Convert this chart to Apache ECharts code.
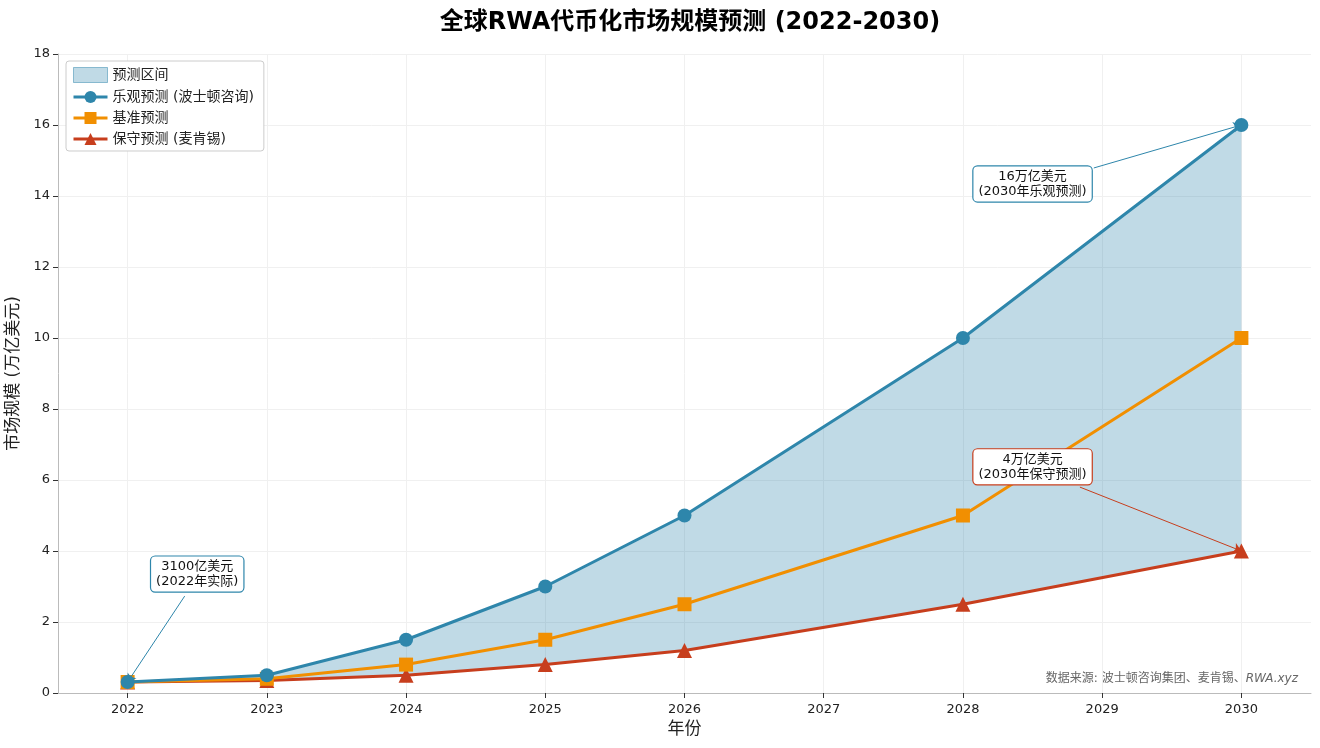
<!DOCTYPE html>
<html>
<head>
<meta charset="utf-8">
<script src="https://cdn.jsdelivr.net/npm/echarts@6/dist/echarts.min.js"></script>
<style>
  html, body { margin: 0; background: #fff; }
  #chart { width: 1320px; height: 748px; }
</style>
</head>
<body>
<div id="chart"></div>
<script>
// 数据
var years = [2022, 2023, 2024, 2025, 2026, 2028, 2030];
var axisYears = [2022, 2023, 2024, 2025, 2026, 2027, 2028, 2029, 2030];
var optimistic = [0.31, 0.5, 1.5, 3, 5, 10, 16];
var baseline = [0.31, 0.4, 0.8, 1.5, 2.5, 5, 10];
var conservative = [0.31, 0.35, 0.5, 0.8, 1.2, 2.5, 4];

var FONT = 'DejaVu Sans, "Noto Sans CJK SC", sans-serif';
var BLUE = '#2E86AB', ORANGE = '#F18F01', RED = '#C73E1D';

function pairs(vals) {
    return years.map(function (y, i) { return [y, vals[i]]; });
}

var chart = echarts.init(document.getElementById('chart'));

chart.setOption({
    backgroundColor: '#fff',
    animation: false,
    title: {
        text: '全球RWA代币化市场规模预测 (2022-2030)',
        left: 685,
        textAlign: 'center',
        top: 6,
        textStyle: { fontFamily: FONT, fontSize: 24, fontWeight: 'bold', color: '#000' }
    },
    grid: { left: 58, right: 9, top: 54, bottom: 55, outerBoundsMode: 'none', containLabel: false },
    legend: {
        orient: 'vertical',
        left: 66,
        top: 61,
        padding: [6, 10, 5, 6],
        itemGap: 7,
        itemWidth: 34,
        itemHeight: 15,
        backgroundColor: '#fff',
        borderColor: '#ccc',
        borderWidth: 1,
        borderRadius: 3,
        lineStyle: { width: 3 },
        textStyle: { fontFamily: FONT, fontSize: 14, color: '#222' },
        data: [
            { name: '预测区间', icon: 'rect', itemStyle: { color: 'rgba(46,134,171,0.3)', borderColor: 'rgba(46,134,171,0.5)', borderWidth: 1 } },
            '乐观预测 (波士顿咨询)',
            '基准预测',
            '保守预测 (麦肯锡)'
        ]
    },
    xAxis: {
        type: 'value',
        min: 2021.5,
        max: 2030.5,
        name: '年份',
        nameLocation: 'middle',
        nameGap: 27,
        nameTextStyle: { fontFamily: FONT, fontSize: 17, color: '#222' },
        axisLine: { show: true, lineStyle: { color: '#bbb' } },
        axisTick: { show: true, customValues: axisYears, length: 5, lineStyle: { color: '#333' } },
        axisLabel: { customValues: axisYears, fontFamily: FONT, fontSize: 13, color: '#222', margin: 10,
            formatter: function (v) { return String(v); } },
        splitLine: { show: true, lineStyle: { color: '#f0f0f0', width: 1 } }
    },
    yAxis: {
        type: 'value',
        min: 0,
        max: 18,
        interval: 2,
        name: '市场规模 (万亿美元)',
        nameLocation: 'middle',
        nameGap: 33,
        nameTextStyle: { fontFamily: FONT, fontSize: 17, color: '#222' },
        axisLine: { show: true, lineStyle: { color: '#bbb' } },
        axisTick: { show: true, length: 5, lineStyle: { color: '#333' } },
        axisLabel: { fontFamily: FONT, fontSize: 13, color: '#222', margin: 8 },
        splitLine: { show: true, lineStyle: { color: '#f0f0f0', width: 1 } }
    },
    series: [
        {
            name: '预测区间',
            type: 'custom',
            z: 1,
            silent: true,
            itemStyle: { color: 'rgba(46,134,171,0.3)' },
            data: [[2022, 0]],
            encode: { x: 0, y: 1 },
            renderItem: function (params, api) {
                var pts = [];
                for (var i = 0; i < years.length; i++) pts.push(api.coord([years[i], optimistic[i]]));
                for (var j = years.length - 1; j >= 0; j--) pts.push(api.coord([years[j], conservative[j]]));
                return {
                    type: 'polygon',
                    shape: { points: pts },
                    style: { fill: 'rgba(46,134,171,0.3)' }
                };
            }
        },
        {
            name: '乐观预测 (波士顿咨询)',
            type: 'line',
            z: 5,
            data: pairs(optimistic),
            symbol: 'circle',
            symbolSize: 14,
            lineStyle: { color: BLUE, width: 3 },
            itemStyle: { color: BLUE },
            markLine: {
                silent: true,
                symbol: ['none', 'arrow'],
                symbolSize: 8,
                label: { show: false },
                data: [
                    [{ coord: [2022.41, 2.73], lineStyle: { color: BLUE, width: 1, type: 'solid' } }, { coord: [2022, 0.31] }],
                    [{ coord: [2028.94, 14.79], lineStyle: { color: BLUE, width: 1, type: 'solid' } }, { coord: [2030, 16] }],
                    [{ coord: [2028.84, 5.8], lineStyle: { color: RED, width: 1, type: 'solid' } }, { coord: [2030, 4] }]
                ]
            },
            markPoint: {
                silent: true,
                symbol: 'circle',
                symbolSize: 1,
                itemStyle: { color: 'rgba(0,0,0,0)' },
                label: {
                    show: true,
                    position: 'inside',
                    fontFamily: FONT,
                    fontSize: 13,
                    lineHeight: 15,
                    color: '#111',
                    backgroundColor: '#fff',
                    borderWidth: 1.2,
                    borderRadius: 4,
                    padding: [3, 5, 2, 5],
                    align: 'center'
                },
                data: [
                    { coord: [2022.5, 3.35], label: { formatter: '3100亿美元\n(2022年实际)', borderColor: BLUE } },
                    { coord: [2028.5, 14.34], label: { formatter: '16万亿美元\n(2030年乐观预测)', borderColor: BLUE } },
                    { coord: [2028.5, 6.37], label: { formatter: '4万亿美元\n(2030年保守预测)', borderColor: RED } }
                ]
            }
        },
        {
            name: '基准预测',
            type: 'line',
            z: 4,
            data: pairs(baseline),
            symbol: 'rect',
            symbolSize: 14,
            lineStyle: { color: ORANGE, width: 3 },
            itemStyle: { color: ORANGE }
        },
        {
            name: '保守预测 (麦肯锡)',
            type: 'line',
            z: 3,
            data: pairs(conservative),
            symbol: 'triangle',
            symbolSize: 15,
            lineStyle: { color: RED, width: 3 },
            itemStyle: { color: RED }
        }
    ],
    graphic: [{
        type: 'text',
        right: 22,
        top: 673,
        style: {
            text: '{a|数据来源: 波士顿咨询集团、麦肯锡、}{b|RWA.xyz}',
            rich: {
                a: { fontFamily: FONT, fontSize: 12, fill: '#666' },
                b: { fontFamily: FONT, fontSize: 12, fill: '#666', fontStyle: 'italic' }
            }
        }
    }]
});
</script>
</body>
</html>
